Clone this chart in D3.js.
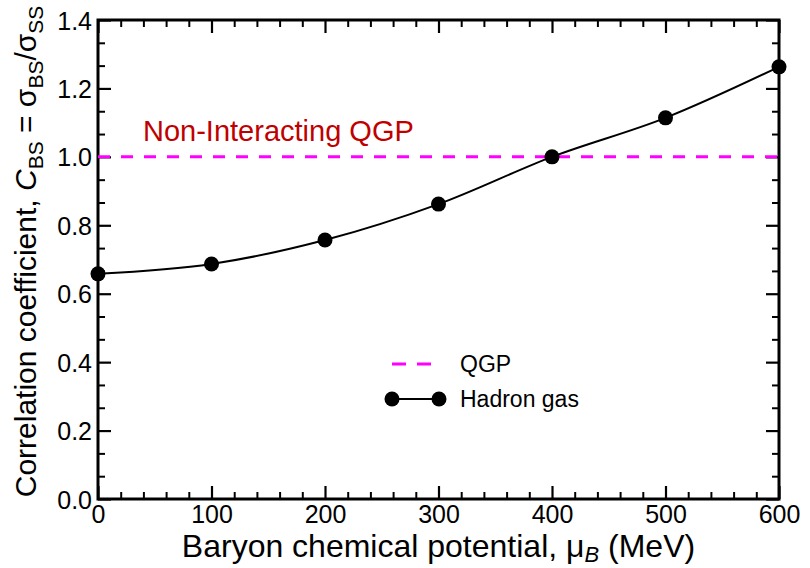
<!DOCTYPE html>
<html>
<head>
<meta charset="utf-8">
<script src="https://cdn.jsdelivr.net/npm/d3@7"></script>
<style>
  html, body { margin: 0; padding: 0; background: #fff; }
  svg text { font-family: "Liberation Sans", Arial, Helvetica, sans-serif; }
</style>
</head>
<body>
<svg id="chart" width="810" height="568"></svg>
<script>
// Baryon chemical potential (MeV) and hadron-gas correlation coefficient C_BS
const muB = [0, 100, 200, 300, 400, 500, 600];
const hadronGas = [0.658, 0.687, 0.757, 0.862, 1.0, 1.114, 1.263];
// Non-interacting QGP reference value
const qgpValue = 1.0;
const xTicks = [0, 100, 200, 300, 400, 500, 600];
const yTicks = [0.0, 0.2, 0.4, 0.6, 0.8, 1.0, 1.2, 1.4];

const W = 810, H = 568;
const margin = { left: 98, top: 20, right: 31, bottom: 69 };
const iw = W - margin.left - margin.right;
const ih = H - margin.top - margin.bottom;

const svg = d3.select("#chart");
const g = svg.append("g").attr("transform", `translate(${margin.left},${margin.top})`);

const x = d3.scaleLinear().domain([0, 600]).range([0, iw]);
const y = d3.scaleLinear().domain([0, 1.4]).range([ih, 0]);

const xMinor = d3.range(0, 600.001, 20).filter(v => v % 100 !== 0);
const yMinor = d3.range(0, 1.4001, 0.2 / 3).filter((v, i) => i % 3 !== 0);

function styleAxis(sel, width) {
  sel.select(".domain").remove();
  sel.selectAll(".tick line").attr("stroke", "#000").attr("stroke-width", width);
}

// major + minor ticks, pointing inward on all four sides
const fmtY = d3.format(".1f");
g.append("g").attr("transform", `translate(0,${ih})`)
  .call(d3.axisBottom(x).tickValues(xTicks).tickSize(-13).tickPadding(6).tickFormat(d3.format("d")))
  .call(s => { styleAxis(s, 2.2); s.selectAll("text").attr("font-size", 25).attr("fill", "#000"); });
g.append("g").attr("transform", `translate(0,${ih})`)
  .call(d3.axisBottom(x).tickValues(xMinor).tickSize(-7).tickFormat(""))
  .call(s => styleAxis(s, 2));
g.append("g")
  .call(d3.axisTop(x).tickValues(xTicks).tickSize(-13).tickFormat(""))
  .call(s => styleAxis(s, 2.2));
g.append("g")
  .call(d3.axisTop(x).tickValues(xMinor).tickSize(-7).tickFormat(""))
  .call(s => styleAxis(s, 2));

g.append("g")
  .call(d3.axisLeft(y).tickValues(yTicks).tickSize(-13).tickPadding(6).tickFormat(fmtY))
  .call(s => { styleAxis(s, 2.2); s.selectAll("text").attr("font-size", 25).attr("fill", "#000").attr("dy", "0.36em"); });
g.append("g")
  .call(d3.axisLeft(y).tickValues(yMinor).tickSize(-7).tickFormat(""))
  .call(s => styleAxis(s, 2));
g.append("g").attr("transform", `translate(${iw},0)`)
  .call(d3.axisRight(y).tickValues(yTicks).tickSize(-13).tickFormat(""))
  .call(s => styleAxis(s, 2.2));
g.append("g").attr("transform", `translate(${iw},0)`)
  .call(d3.axisRight(y).tickValues(yMinor).tickSize(-7).tickFormat(""))
  .call(s => styleAxis(s, 2));

// frame
g.append("rect").attr("x", 0).attr("y", 0).attr("width", iw).attr("height", ih)
  .attr("fill", "none").attr("stroke", "#000").attr("stroke-width", 3);

// QGP reference line
g.append("line")
  .attr("x1", x(0)).attr("x2", x(600)).attr("y1", y(qgpValue)).attr("y2", y(qgpValue))
  .attr("stroke", "#ff00ff").attr("stroke-width", 3).attr("stroke-dasharray", "12,11");

g.append("text").attr("x", 45).attr("y", y(qgpValue) - 16)
  .attr("font-size", 29).attr("fill", "#c00000").text("Non-Interacting QGP");

// hadron gas curve
const pts = muB.map((m, i) => [m, hadronGas[i]]);
g.append("path").datum(pts)
  .attr("fill", "none").attr("stroke", "#000").attr("stroke-width", 2)
  .attr("d", d3.line().x(d => x(d[0])).y(d => y(d[1])).curve(d3.curveMonotoneX));
g.selectAll("circle.pt").data(pts).join("circle").attr("class", "pt")
  .attr("cx", d => x(d[0])).attr("cy", d => y(d[1])).attr("r", 7.5).attr("fill", "#000");

// legend
const lg = svg.append("g").attr("transform", "translate(392,364)");
lg.append("line").attr("x1", 0).attr("x2", 40).attr("y1", 0).attr("y2", 0)
  .attr("stroke", "#ff00ff").attr("stroke-width", 3).attr("stroke-dasharray", "14,11");
lg.append("text").attr("x", 68).attr("y", 8).attr("font-size", 23).text("QGP");
lg.append("line").attr("x1", 0).attr("x2", 47).attr("y1", 35).attr("y2", 35)
  .attr("stroke", "#000").attr("stroke-width", 2);
lg.selectAll("circle").data([0, 47]).join("circle")
  .attr("cx", d => d).attr("cy", 35).attr("r", 7.5).attr("fill", "#000");
lg.append("text").attr("x", 68).attr("y", 43).attr("font-size", 23).text("Hadron gas");

// axis titles
const xt = svg.append("text").attr("x", margin.left + iw / 2).attr("y", 557)
  .attr("text-anchor", "middle").attr("font-size", 32);
xt.append("tspan").text("Baryon chemical potential, μ");
xt.append("tspan").attr("font-style", "italic").attr("font-size", 22).attr("dy", 5).text("B");
xt.append("tspan").attr("dy", -5).text(" (MeV)");

const yt = svg.append("text").attr("transform", `translate(36,${margin.top + ih / 2 - 8}) rotate(-90)`)
  .attr("text-anchor", "middle").attr("font-size", 30);
yt.append("tspan").text("Correlation coefficient, ");
yt.append("tspan").attr("font-style", "italic").text("C");
yt.append("tspan").attr("font-size", 21).attr("dy", 7).text("BS");
yt.append("tspan").attr("dy", -7).text(" = σ");
yt.append("tspan").attr("font-size", 21).attr("dy", 7).text("BS");
yt.append("tspan").attr("dy", -7).text("/σ");
yt.append("tspan").attr("font-size", 21).attr("dy", 7).text("SS");
</script>
</body>
</html>
